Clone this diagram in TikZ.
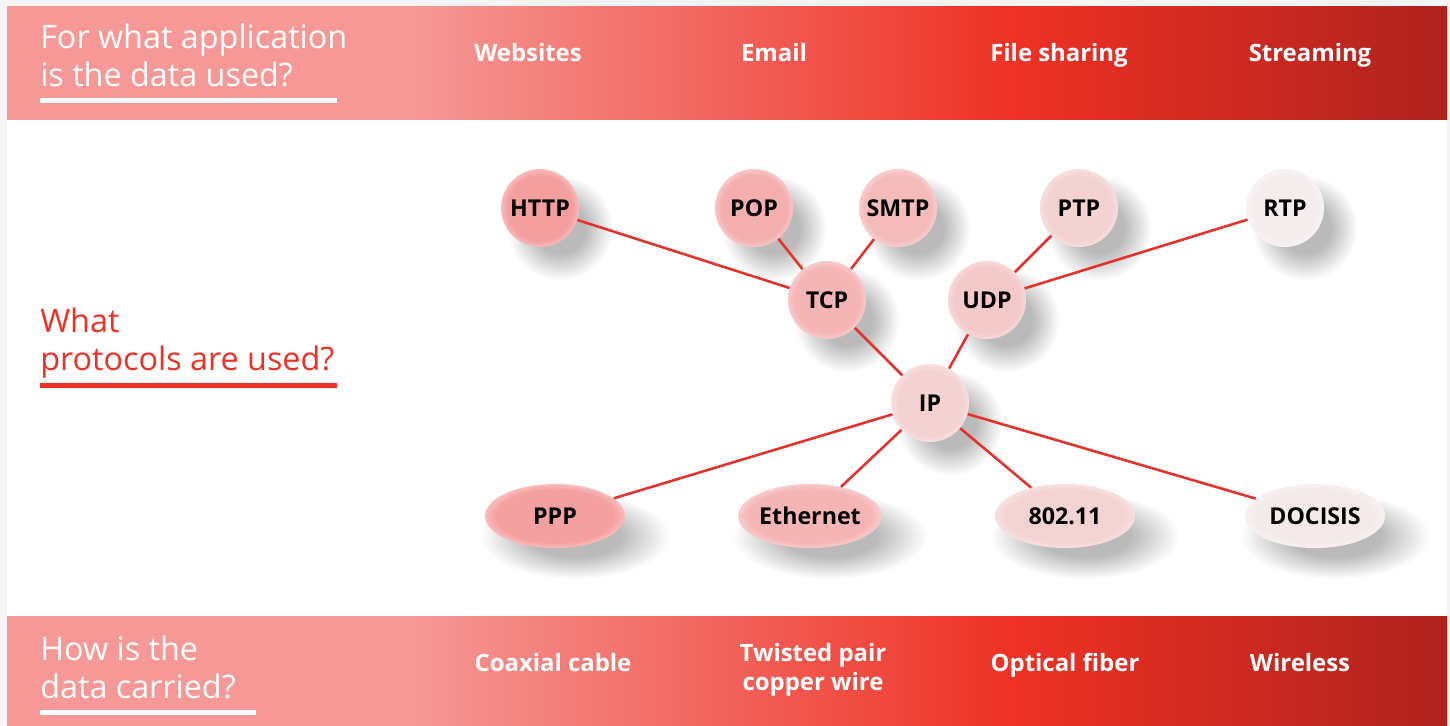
\documentclass[tikz,border=0pt]{standalone}
\usepackage{fontspec}
\setmainfont{Open Sans}
\usepackage{xcolor}
\usepackage{tikz}
\usetikzlibrary{shapes.geometric, shadows, fadings}
\definecolor{bandpink}{HTML}{F69896}
\definecolor{bandred}{HTML}{EE3124}
\definecolor{banddark}{HTML}{B0221E}
\definecolor{framegray}{HTML}{F4F4F4}
\definecolor{linkred}{HTML}{E8302A}
\definecolor{httpcol}{HTML}{F59E9E}
\definecolor{popcol}{HTML}{F5AEAE}
\definecolor{smtpcol}{HTML}{F5BABA}
\definecolor{ptpcol}{HTML}{F3D2D2}
\definecolor{rtpcol}{HTML}{F5EDED}
\definecolor{tcpcol}{HTML}{F5B5B5}
\definecolor{udpcol}{HTML}{F4C9C9}
\definecolor{ipcol}{HTML}{F4D2D2}
\definecolor{pppcol}{HTML}{F5A0A0}
\definecolor{ethcol}{HTML}{F5B5B5}
\definecolor{wificol}{HTML}{F4D3D3}
\definecolor{docsiscol}{HTML}{F5EAEA}
\colorlet{ballcol}{bandpink}
\pgfdeclarehorizontalshading{bandshade}{100bp}{color(0bp)=(bandpink); color(39bp)=(bandpink); color(60bp)=(bandred); color(75bp)=(banddark); color(100bp)=(banddark)}
\pgfdeclareradialshading[ballcol]{softball}{\pgfpointorigin}{color(0bp)=(ballcol); color(21bp)=(ballcol); color(25bp)=(ballcol!70!white); color(50bp)=(white)}
\pgfdeclareradialshading{shadowmask}{\pgfpointorigin}{color(0bp)=(pgftransparent!0); color(12bp)=(pgftransparent!0); color(25bp)=(pgftransparent!100); color(50bp)=(pgftransparent!100)}
\pgfdeclarefading{shadowfade}{\pgfuseshading{shadowmask}}

\begin{document}
\begin{tikzpicture}[
    x=0.025cm, y=-0.025cm,
    proto/.style={circle, inner sep=0pt, minimum size=1.95cm,
                  font=\fontsize{16.5pt}{19pt}\selectfont\bfseries,
                  /utils/exec={\colorlet{ballcol}{#1}}, shade, shading=softball,
                  general shadow={shadow scale=1.35, shadow xshift=10.5pt, shadow yshift=-10.5pt,
                                  fill=black, fill opacity=0.27, path fading=shadowfade}},
    carrier/.style={proto=#1, ellipse, minimum width=3.5cm, minimum height=1.6cm},
    link/.style={draw=linkred, line width=1.8pt},
    question/.style={anchor=base west, align=left, inner sep=0pt, font=\fontsize{23pt}{27pt}\selectfont},
    bandlabel/.style={anchor=base, text=white, align=center, font=\fontsize{17pt}{20.6pt}\selectfont\bfseries},
]

% Frame and bands
\fill[framegray] (0,0) rectangle (1450,725);
\useasboundingbox (0,0) rectangle (1450,725);
\fill[white] (7,119) rectangle (1447,616);
\shade[shading=bandshade] (7,6) rectangle (1447,119);
\shade[shading=bandshade] (7,616) rectangle (1447,725);

% Questions
\node[question, text=white] (qapp) at (40,86) {For what application\\is the data used?};
\fill[white] (40,98) rectangle (337,103);
\node[question, text=bandred] (qproto) at (40,370) {What\\protocols are used?};
\fill[bandred] (40,383) rectangle (337,388);
\node[question, text=white] (qcarry) at (40,698) {How is the\\data carried?};
\fill[white] (40,710) rectangle (256,715);

% Applications
\node[bandlabel] (websites) at (528,61) {Websites};
\node[bandlabel] (email) at (774,61) {Email};
\node[bandlabel] (filesharing) at (1059,61) {File sharing};
\node[bandlabel] (streaming) at (1310,61) {Streaming};

% Media
\node[bandlabel] (coax) at (553,671) {Coaxial cable};
\node[bandlabel] (twisted) at (813,690) {Twisted pair\\copper wire};
\node[bandlabel] (fiber) at (1065,671) {Optical fiber};
\node[bandlabel] (wireless) at (1300,671) {Wireless};

% Protocols
\node[proto=httpcol] (http) at (540,208) {HTTP};
\node[proto=popcol] (pop) at (754,208) {POP};
\node[proto=smtpcol] (smtp) at (898,208) {SMTP};
\node[proto=ptpcol] (ptp) at (1079,208) {PTP};
\node[proto=rtpcol] (rtp) at (1285,208) {RTP};
\node[proto=tcpcol] (tcp) at (827,300) {TCP};
\node[proto=udpcol] (udp) at (987,300) {UDP};
\node[proto=ipcol] (ip) at (930,403) {IP};

\node[carrier=pppcol] (ppp) at (555,516) {PPP};
\node[carrier=ethcol] (ethernet) at (810,516) {Ethernet};
\node[carrier=wificol] (wifi) at (1065,516) {802.11};
\node[carrier=docsiscol] (docsis) at (1315,516) {DOCISIS};

% Links
\draw[link] (http) -- (tcp);
\draw[link] (pop) -- (tcp);
\draw[link] (smtp) -- (tcp);
\draw[link] (ptp) -- (udp);
\draw[link] (rtp) -- (udp);
\draw[link] (tcp) -- (ip);
\draw[link] (udp) -- (ip);
\draw[link] (ip) -- (ppp);
\draw[link] (ip) -- (ethernet);
\draw[link] (ip) -- (wifi);
\draw[link] (ip) -- (docsis);

\end{tikzpicture}
\end{document}
